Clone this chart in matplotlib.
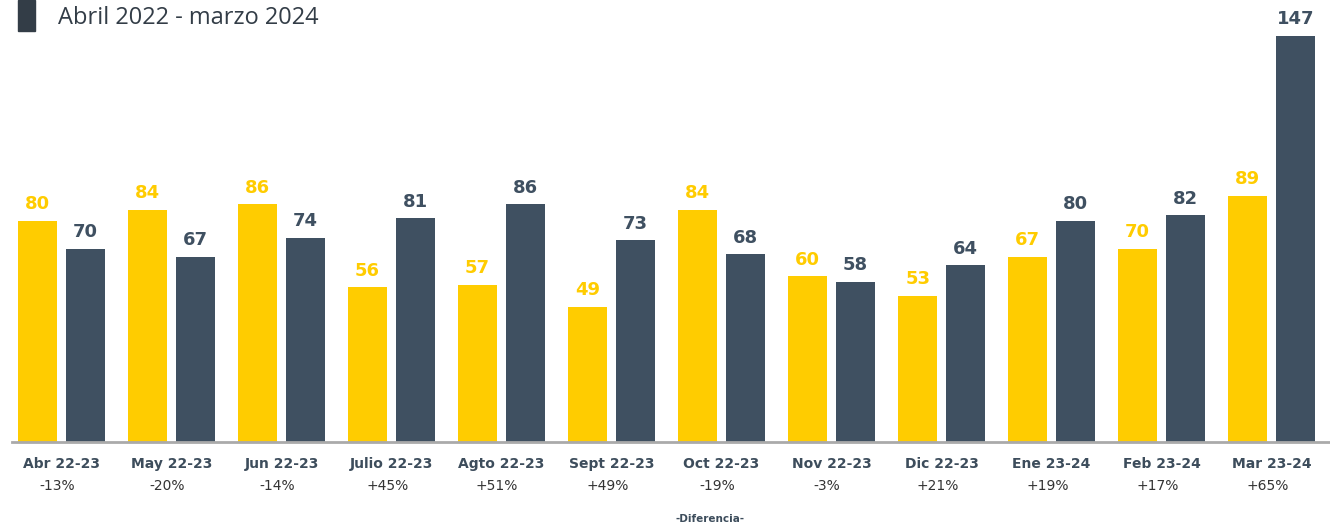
import numpy as np
import matplotlib.pyplot as plt
from matplotlib.patches import Rectangle

# data
months = ["Abr 22-23", "May 22-23", "Jun 22-23", "Julio 22-23", "Agto 22-23", "Sept 22-23",
          "Oct 22-23", "Nov 22-23", "Dic 22-23", "Ene 23-24", "Feb 23-24", "Mar 23-24"]
prev_year = [80, 84, 86, 56, 57, 49, 84, 60, 53, 67, 70, 89]
this_year = [70, 67, 74, 81, 86, 73, 68, 58, 64, 80, 82, 147]
diffs = ["-13%", "-20%", "-14%", "+45%", "+51%", "+49%", "-19%", "-3%", "+21%", "+19%", "+17%", "+65%"]

yellow = "#FFCC00"
slate = "#3F5061"

fig = plt.figure(figsize=(13.3, 5.25), dpi=100)
ax = fig.add_axes([12 / 1330, 0.158, 1 - 12 / 1330, 0.842])

x = np.arange(len(months))
off = 0.218
w = 0.355
ax.bar(x - off, prev_year, width=w, color=yellow)
ax.bar(x + off, this_year, width=w, color=slate)

for xi, v in zip(x, prev_year):
    ax.annotate(str(v), (xi - off, v), xytext=(0, 12), textcoords="offset points",
                ha="center", va="center", fontsize=13, fontweight="bold", color=yellow)
for xi, v in zip(x, this_year):
    ax.annotate(str(v), (xi + off, v), xytext=(0, 12), textcoords="offset points",
                ha="center", va="center", fontsize=13, fontweight="bold", color=slate)

ax.set_xlim(-0.45, 11.53)
ax.set_ylim(0, 160)
for s in ["top", "right", "left"]:
    ax.spines[s].set_visible(False)
ax.spines["bottom"].set_color("#aaaaaa")
ax.spines["bottom"].set_linewidth(2)
ax.set_yticks([])
ax.set_xticks([])

# month labels and differences below the axis
for xi, m, d in zip(x, months, diffs):
    ax.annotate(m, (xi, 0), xytext=(0, -16), textcoords="offset points",
                ha="center", va="center", fontsize=10, fontweight="bold", color="#3d4d5c")
    ax.annotate(d, (xi - 0.04, 0), xytext=(0, -32), textcoords="offset points",
                ha="center", va="center", fontsize=10, color="#333333")

fig.text(710 / 1330, 1 - 519 / 525, "-Diferencia-", ha="center", va="center",
         fontsize=7.5, fontweight="bold", color="#3d4d5c")

# title with marker block
fig.patches.append(Rectangle((18 / 1330, 1 - 31 / 525), 17 / 1330, 31 / 525,
                             transform=fig.transFigure, color="#333d47"))
fig.text(58 / 1330, 1 - 18 / 525, "Abril 2022 - marzo 2024", ha="left", va="center",
         fontsize=17, color="#333d47", family="Open Sans")

fig.savefig("out.png", dpi=100)
